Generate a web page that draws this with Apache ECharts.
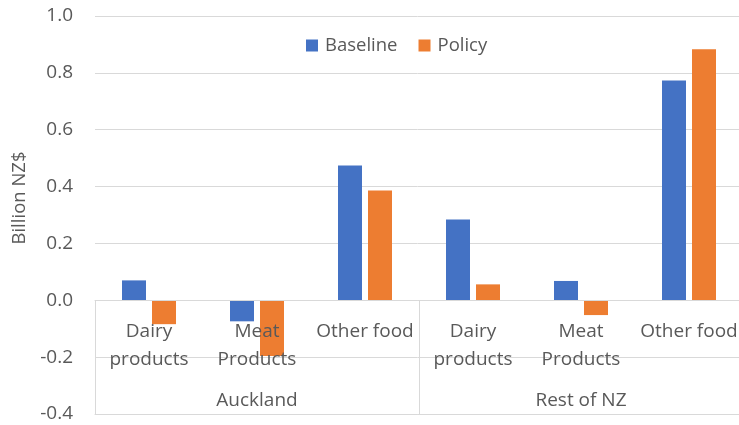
<!DOCTYPE html>
<html>
<head>
<meta charset="utf-8">
<script src="https://cdn.jsdelivr.net/npm/echarts@6/dist/echarts.min.js"></script>
<style>html,body{margin:0;padding:0;background:#fff}#c{width:739px;height:425px}</style>
</head>
<body>
<div id="c"></div>
<script>
var categories = ['Dairy\nproducts', 'Meat\nProducts', 'Other food', 'Dairy\nproducts', 'Meat\nProducts', 'Other food'];
var groups = ['Auckland', 'Rest of NZ'];
var baseline = [0.07, -0.074, 0.474, 0.284, 0.068, 0.773];
var policy = [-0.084, -0.196, 0.386, 0.056, -0.052, 0.883];

var FONT = 'Open Sans';
var TXT = '#595959';
var GRID = '#d9d9d9';
var Y_MIN = -0.4, Y_MAX = 1.0;
var GRID_TOP = 16, GRID_BOTTOM = 11, H = 425;
var plotH = H - GRID_TOP - GRID_BOTTOM;
var zeroOffset = -plotH * (0 - Y_MIN) / (Y_MAX - Y_MIN);

var chart = echarts.init(document.getElementById('c'));
chart.setOption({
  animation: false,
  textStyle: { fontFamily: FONT },
  color: ['#4472C4', '#ED7D31'],
  legend: {
    left: 301, top: 31,
    itemWidth: 12, itemHeight: 12, itemGap: 21,
    icon: 'rect',
    textStyle: { color: TXT, fontSize: 18.5, fontFamily: FONT, padding: [0, 0, 0, 2] },
    data: ['Baseline', 'Policy']
  },
  grid: { left: 95, right: -4, top: GRID_TOP, bottom: GRID_BOTTOM, containLabel: false, outerBoundsMode: 'none' },
  xAxis: [
    {
      type: 'category', data: categories, z: 10, position: 'bottom', offset: zeroOffset,
      axisLine: { onZero: false, lineStyle: { color: GRID, width: 1 } },
      axisTick: { show: false },
      axisLabel: { interval: 0, color: TXT, fontSize: 19, lineHeight: 28, margin: 17, fontFamily: FONT }
    },
    {
      type: 'category', data: groups, position: 'bottom', z: 10,
      axisLine: { onZero: false, lineStyle: { color: GRID, width: 1 } },
      axisTick: { show: true, inside: true, length: -zeroOffset, lineStyle: { color: GRID, width: 1 } },
      axisLabel: { inside: true, interval: 0, color: TXT, fontSize: 19, margin: 4, fontFamily: FONT }
    }
  ],
  yAxis: {
    type: 'value', min: Y_MIN, max: Y_MAX, interval: 0.2,
    name: 'Billion NZ$', nameLocation: 'middle', nameGap: 61, nameRotate: 90,
    nameTextStyle: { color: TXT, fontSize: 18.5, fontFamily: FONT, padding: [0, 0, 0, 34] },
    axisLine: { show: false }, axisTick: { show: false },
    axisLabel: { color: TXT, fontSize: 19, margin: 22, fontFamily: FONT, formatter: function (v) { return v.toFixed(1); } },
    splitLine: { lineStyle: { color: GRID, width: 1 } }
  },
  series: [
    { name: 'Baseline', type: 'bar', data: baseline, barWidth: 24, barGap: '25%', xAxisIndex: 0 },
    { name: 'Policy', type: 'bar', data: policy, barWidth: 24, barGap: '25%', xAxisIndex: 0 }
  ]
});
</script>
</body>
</html>
